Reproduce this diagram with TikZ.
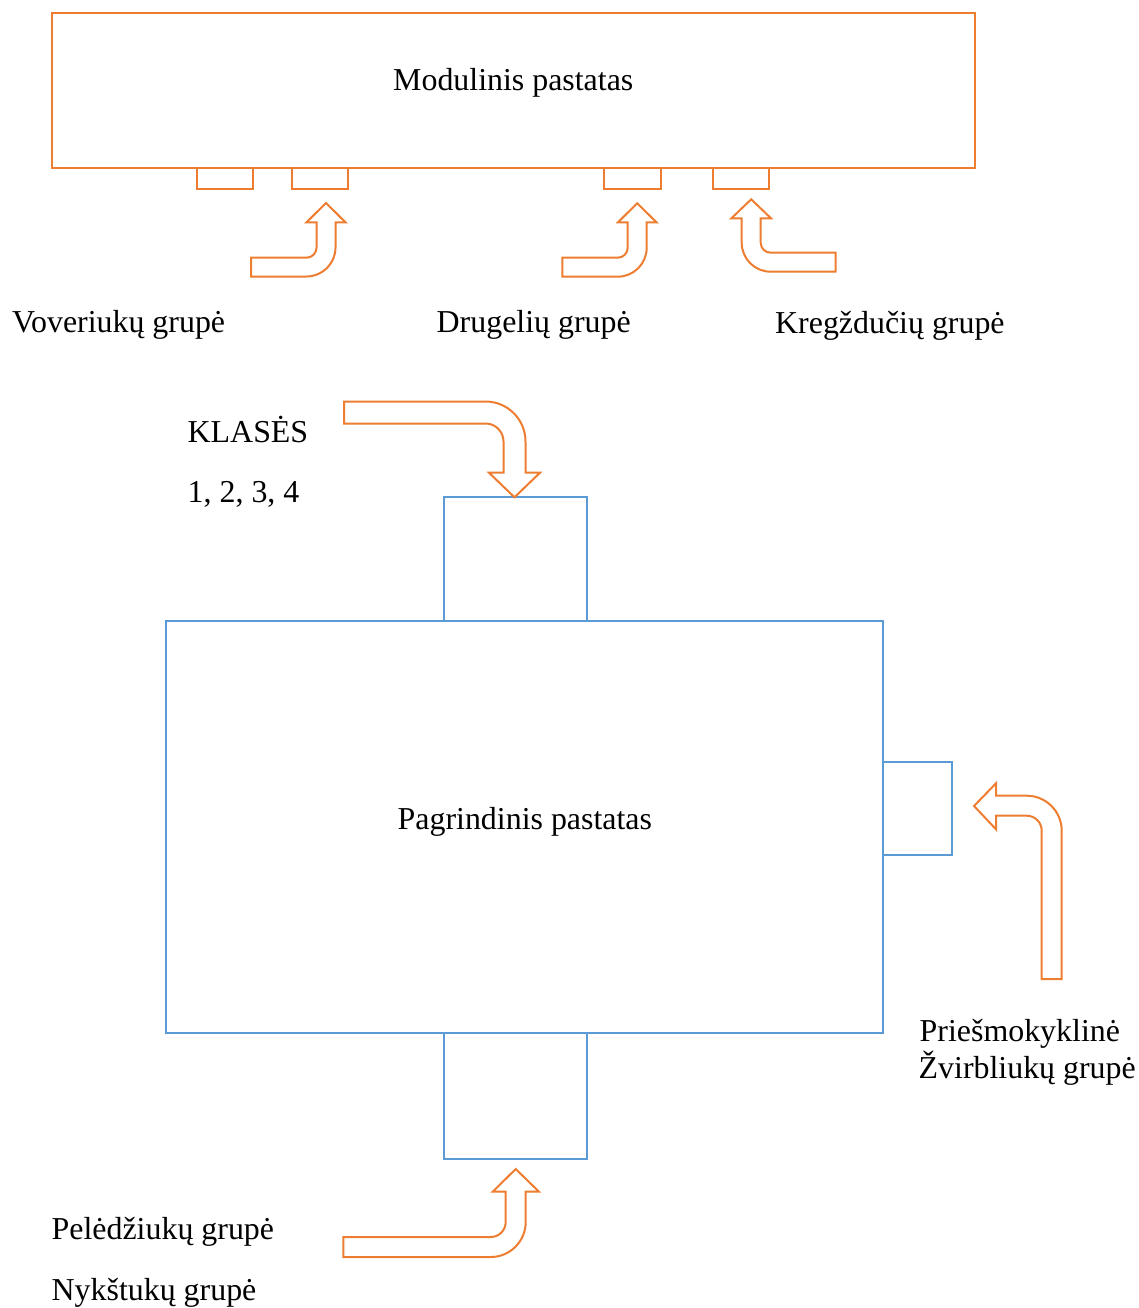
\documentclass[tikz,border=0pt]{standalone}
\usepackage{fontspec}
\setmainfont{Liberation Serif}
\definecolor{orng}{HTML}{ED7D31}
\definecolor{blu}{HTML}{5B9BD5}
\tikzset{
  obox/.style={draw=orng, line width=2pt},
  bbox/.style={draw=blu, line width=2pt},
  barrow/.style={draw=orng, line width=2pt, line join=miter},
  lbl/.style={anchor=base west, inner sep=0pt, font=\fontsize{31.9}{38}\selectfont}
}
\begin{document}
\begin{tikzpicture}[x=1pt,y=-1pt]
\useasboundingbox (0,0) rectangle (1139,1308);
% modular building
\draw[obox] (52,13) rectangle (975,168);
\draw[obox] (196.7,168) rectangle (252.7,189.3);
\draw[obox] (292,168) rectangle (347.7,189.3);
\draw[obox] (604.3,168) rectangle (661,189.3);
\draw[obox] (713.3,168) rectangle (769.3,189.3);
\node[lbl] (mod) at (393,90.5) {Modulinis pastatas};
% arrows to modular building
\draw[barrow] (251,257.7) -- (306.5,257.7) arc(90:0:10) -- (316.5,222.3) -- (306.5,222.3) -- (326,203) -- (345.5,222.3) -- (335.5,222.3) -- (335.5,247.5) arc(0:90:29) -- (251,276.5) -- cycle;
\draw[barrow] (562.3,257.7) -- (617.7,257.7) arc(90:0:10) -- (627.7,222.3) -- (618,222.3) -- (637.2,203.3) -- (656.5,222.3) -- (646.7,222.3) -- (646.7,247.7) arc(0:90:29) -- (562.3,276.7) -- cycle;
\draw[barrow] (835.7,252.7) -- (770.7,252.7) arc(90:180:10) -- (760.7,218.3) -- (771,218.3) -- (751.2,199.3) -- (731.4,218.3) -- (741.7,218.3) -- (741.7,242.7) arc(180:90:29) -- (835.7,271.7) -- cycle;
\node[lbl] (vov) at (12,332.5) {Voveriukų grupė};
\node[lbl] (dru) at (436.5,332.5) {Drugelių grupė};
\node[lbl] (kre) at (775,333.5) {Kregždučių grupė};
% main building
\draw[bbox] (166,621) rectangle (883,1033);
\draw[bbox] (444.3,497) rectangle (587,621);
\draw[bbox] (444.3,1033) rectangle (587,1159);
\draw[bbox] (883,762) rectangle (952,855);
\node[lbl] (pag) at (397.5,829) {Pagrindinis pastatas};
% arrows to main building
\draw[barrow] (344,401.5) -- (485.5,401.5) arc(-90:0:40) -- (525.5,472.7) -- (540,472.7) -- (514.5,497.3) -- (489,472.7) -- (503.5,472.7) -- (503.5,441.5) arc(0:-90:18) -- (344,423.5) -- cycle;
\draw[barrow] (974,806) -- (996,783.3) -- (996,795.7) -- (1026.7,795.7) arc(-90:0:35) -- (1061.7,979) -- (1041.7,979) -- (1041.7,830.7) arc(0:-90:15) -- (996,815.7) -- (996,829.3) -- cycle;
\draw[barrow] (343.3,1237) -- (490.7,1237) arc(90:0:15) -- (505.7,1191.7) -- (492.7,1191.7) -- (515.7,1169) -- (539,1191.7) -- (525.7,1191.7) -- (525.7,1222) arc(0:90:35) -- (343.3,1257) -- cycle;
\node[lbl] (kla) at (187.5,442.5) {KLASĖS};
\node[lbl] (num) at (187.5,502.5) {1, 2, 3, 4};
\node[lbl] (pri) at (919.5,1041) {Priešmokyklinė};
\node[lbl] (zvi) at (918.5,1078.5) {Žvirbliukų grupė};
\node[lbl] (pel) at (51.5,1239) {Pelėdžiukų grupė};
\node[lbl] (nyk) at (51.5,1300) {Nykštukų grupė};
\end{tikzpicture}
\end{document}
